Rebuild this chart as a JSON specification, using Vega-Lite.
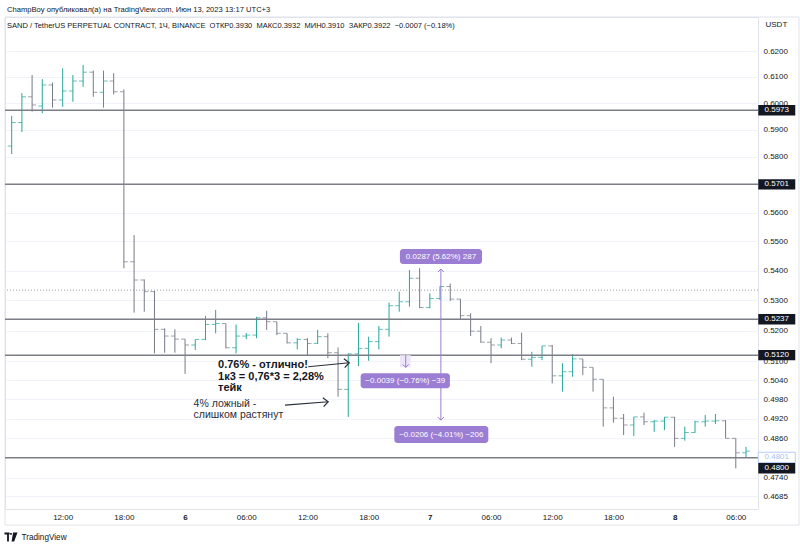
{
  "$schema": "https://vega.github.io/schema/vega-lite/v6.json",
  "width": 753,
  "height": 492,
  "autosize": {"type": "none"},
  "padding": {"left": 5, "top": 17, "right": 42, "bottom": 38},
  "background": "white",
  "config": {
    "font": "Liberation Sans",
    "view": {"stroke": "#e0e3eb"}
  },
  "title": {
    "text": "ChampBoy опубликовал(а) на TradingView.com, Июн 13, 2023 13:17 UTC+3",
    "subtitle": "\u00a0SAND / TetherUS PERPETUAL CONTRACT, 1Ч, BINANCE \u00a0ОТКР0.3930 \u00a0МАКС0.3932 \u00a0МИН0.3910 \u00a0ЗАКР0.3922 \u00a0−0.0007 (−0.18%)",
    "anchor": "start",
    "frame": "group",
    "orient": "top",
    "fontSize": 7.6,
    "fontWeight": "normal",
    "color": "#131722",
    "subtitleFontSize": 7.5,
    "subtitleColor": "#131722",
    "subtitlePadding": 8,
    "offset": -13,
    "dx": 2
  },
  "datasets": {
    "bars": [
      {"t": "2023-06-05T07:00:00Z", "o": 0.5840, "h": 0.5952, "l": 0.5811, "c": 0.5927},
      {"t": "2023-06-05T08:00:00Z", "o": 0.5927, "h": 0.6038, "l": 0.5892, "c": 0.6024},
      {"t": "2023-06-05T09:00:00Z", "o": 0.6024, "h": 0.6107, "l": 0.5968, "c": 0.5993},
      {"t": "2023-06-05T10:00:00Z", "o": 0.5989, "h": 0.6091, "l": 0.5962, "c": 0.6069},
      {"t": "2023-06-05T11:00:00Z", "o": 0.6069, "h": 0.6078, "l": 0.5983, "c": 0.6012},
      {"t": "2023-06-05T12:00:00Z", "o": 0.6012, "h": 0.6133, "l": 0.5986, "c": 0.6046},
      {"t": "2023-06-05T13:00:00Z", "o": 0.6046, "h": 0.6107, "l": 0.6005, "c": 0.6084},
      {"t": "2023-06-05T14:00:00Z", "o": 0.6084, "h": 0.6146, "l": 0.6062, "c": 0.6118},
      {"t": "2023-06-05T15:00:00Z", "o": 0.6118, "h": 0.6124, "l": 0.6024, "c": 0.6041},
      {"t": "2023-06-05T16:00:00Z", "o": 0.6041, "h": 0.6124, "l": 0.5983, "c": 0.6084},
      {"t": "2023-06-05T17:00:00Z", "o": 0.6084, "h": 0.6114, "l": 0.6033, "c": 0.6043},
      {"t": "2023-06-05T18:00:00Z", "o": 0.6043, "h": 0.6052, "l": 0.5408, "c": 0.5430},
      {"t": "2023-06-05T19:00:00Z", "o": 0.5430, "h": 0.5522, "l": 0.5259, "c": 0.5368},
      {"t": "2023-06-05T20:00:00Z", "o": 0.5368, "h": 0.5370, "l": 0.5262, "c": 0.5329},
      {"t": "2023-06-05T21:00:00Z", "o": 0.5329, "h": 0.5331, "l": 0.5126, "c": 0.5204},
      {"t": "2023-06-05T22:00:00Z", "o": 0.5204, "h": 0.5207, "l": 0.5128, "c": 0.5182},
      {"t": "2023-06-05T23:00:00Z", "o": 0.5182, "h": 0.5204, "l": 0.5128, "c": 0.5172},
      {"t": "2023-06-06T00:00:00Z", "o": 0.5172, "h": 0.5172, "l": 0.5060, "c": 0.5153},
      {"t": "2023-06-06T01:00:00Z", "o": 0.5153, "h": 0.5171, "l": 0.5137, "c": 0.5171},
      {"t": "2023-06-06T02:00:00Z", "o": 0.5171, "h": 0.5248, "l": 0.5169, "c": 0.5220},
      {"t": "2023-06-06T03:00:00Z", "o": 0.5220, "h": 0.5268, "l": 0.5191, "c": 0.5223},
      {"t": "2023-06-06T04:00:00Z", "o": 0.5223, "h": 0.5223, "l": 0.5142, "c": 0.5144},
      {"t": "2023-06-06T05:00:00Z", "o": 0.5144, "h": 0.5220, "l": 0.5126, "c": 0.5182},
      {"t": "2023-06-06T06:00:00Z", "o": 0.5182, "h": 0.5192, "l": 0.5172, "c": 0.5185},
      {"t": "2023-06-06T07:00:00Z", "o": 0.5185, "h": 0.5245, "l": 0.5175, "c": 0.5242},
      {"t": "2023-06-06T08:00:00Z", "o": 0.5242, "h": 0.5265, "l": 0.5202, "c": 0.5229},
      {"t": "2023-06-06T09:00:00Z", "o": 0.5229, "h": 0.5229, "l": 0.5185, "c": 0.5191},
      {"t": "2023-06-06T10:00:00Z", "o": 0.5191, "h": 0.5191, "l": 0.5158, "c": 0.5160},
      {"t": "2023-06-06T11:00:00Z", "o": 0.5160, "h": 0.5175, "l": 0.5139, "c": 0.5171},
      {"t": "2023-06-06T12:00:00Z", "o": 0.5171, "h": 0.5175, "l": 0.5120, "c": 0.5158},
      {"t": "2023-06-06T13:00:00Z", "o": 0.5158, "h": 0.5202, "l": 0.5156, "c": 0.5180},
      {"t": "2023-06-06T14:00:00Z", "o": 0.5180, "h": 0.5191, "l": 0.5110, "c": 0.5128},
      {"t": "2023-06-06T15:00:00Z", "o": 0.5128, "h": 0.5145, "l": 0.4988, "c": 0.5011},
      {"t": "2023-06-06T16:00:00Z", "o": 0.5011, "h": 0.5126, "l": 0.4925, "c": 0.5124},
      {"t": "2023-06-06T17:00:00Z", "o": 0.5124, "h": 0.5225, "l": 0.5085, "c": 0.5142},
      {"t": "2023-06-06T18:00:00Z", "o": 0.5142, "h": 0.5180, "l": 0.5102, "c": 0.5164},
      {"t": "2023-06-06T19:00:00Z", "o": 0.5164, "h": 0.5215, "l": 0.5139, "c": 0.5204},
      {"t": "2023-06-06T20:00:00Z", "o": 0.5204, "h": 0.5292, "l": 0.5180, "c": 0.5282},
      {"t": "2023-06-06T21:00:00Z", "o": 0.5282, "h": 0.5329, "l": 0.5262, "c": 0.5295},
      {"t": "2023-06-06T22:00:00Z", "o": 0.5295, "h": 0.5402, "l": 0.5279, "c": 0.5374},
      {"t": "2023-06-06T23:00:00Z", "o": 0.5374, "h": 0.5408, "l": 0.5274, "c": 0.5276},
      {"t": "2023-06-07T00:00:00Z", "o": 0.5276, "h": 0.5323, "l": 0.5273, "c": 0.5306},
      {"t": "2023-06-07T01:00:00Z", "o": 0.5306, "h": 0.5348, "l": 0.5301, "c": 0.5346},
      {"t": "2023-06-07T02:00:00Z", "o": 0.5346, "h": 0.5356, "l": 0.5298, "c": 0.5304},
      {"t": "2023-06-07T03:00:00Z", "o": 0.5304, "h": 0.5304, "l": 0.5235, "c": 0.5249},
      {"t": "2023-06-07T04:00:00Z", "o": 0.5249, "h": 0.5257, "l": 0.5182, "c": 0.5198},
      {"t": "2023-06-07T05:00:00Z", "o": 0.5198, "h": 0.5215, "l": 0.5160, "c": 0.5162},
      {"t": "2023-06-07T06:00:00Z", "o": 0.5162, "h": 0.5175, "l": 0.5094, "c": 0.5153},
      {"t": "2023-06-07T07:00:00Z", "o": 0.5153, "h": 0.5177, "l": 0.5142, "c": 0.5169},
      {"t": "2023-06-07T08:00:00Z", "o": 0.5169, "h": 0.5177, "l": 0.5156, "c": 0.5158},
      {"t": "2023-06-07T09:00:00Z", "o": 0.5158, "h": 0.5193, "l": 0.5104, "c": 0.5107},
      {"t": "2023-06-07T10:00:00Z", "o": 0.5107, "h": 0.5131, "l": 0.5083, "c": 0.5113},
      {"t": "2023-06-07T11:00:00Z", "o": 0.5113, "h": 0.5150, "l": 0.5104, "c": 0.5150},
      {"t": "2023-06-07T12:00:00Z", "o": 0.5150, "h": 0.5153, "l": 0.5030, "c": 0.5054},
      {"t": "2023-06-07T13:00:00Z", "o": 0.5054, "h": 0.5094, "l": 0.5004, "c": 0.5067},
      {"t": "2023-06-07T14:00:00Z", "o": 0.5067, "h": 0.5123, "l": 0.5051, "c": 0.5108},
      {"t": "2023-06-07T15:00:00Z", "o": 0.5108, "h": 0.5108, "l": 0.5056, "c": 0.5081},
      {"t": "2023-06-07T16:00:00Z", "o": 0.5081, "h": 0.5081, "l": 0.5004, "c": 0.5043},
      {"t": "2023-06-07T17:00:00Z", "o": 0.5043, "h": 0.5043, "l": 0.4895, "c": 0.4953},
      {"t": "2023-06-07T18:00:00Z", "o": 0.4953, "h": 0.4988, "l": 0.4907, "c": 0.4921},
      {"t": "2023-06-07T19:00:00Z", "o": 0.4921, "h": 0.4934, "l": 0.4869, "c": 0.4900},
      {"t": "2023-06-07T20:00:00Z", "o": 0.4900, "h": 0.4925, "l": 0.4866, "c": 0.4925},
      {"t": "2023-06-07T21:00:00Z", "o": 0.4925, "h": 0.4938, "l": 0.4900, "c": 0.4910},
      {"t": "2023-06-07T22:00:00Z", "o": 0.4910, "h": 0.4915, "l": 0.4879, "c": 0.4912},
      {"t": "2023-06-07T23:00:00Z", "o": 0.4912, "h": 0.4925, "l": 0.4884, "c": 0.4924},
      {"t": "2023-06-08T00:00:00Z", "o": 0.4924, "h": 0.4925, "l": 0.4833, "c": 0.4859},
      {"t": "2023-06-08T01:00:00Z", "o": 0.4859, "h": 0.4895, "l": 0.4852, "c": 0.4877},
      {"t": "2023-06-08T02:00:00Z", "o": 0.4877, "h": 0.4913, "l": 0.4876, "c": 0.4910},
      {"t": "2023-06-08T03:00:00Z", "o": 0.4910, "h": 0.4931, "l": 0.4895, "c": 0.4912},
      {"t": "2023-06-08T04:00:00Z", "o": 0.4912, "h": 0.4934, "l": 0.4903, "c": 0.4913},
      {"t": "2023-06-08T05:00:00Z", "o": 0.4913, "h": 0.4915, "l": 0.4859, "c": 0.4859},
      {"t": "2023-06-08T06:00:00Z", "o": 0.4859, "h": 0.4859, "l": 0.4768, "c": 0.4815},
      {"t": "2023-06-08T07:00:00Z", "o": 0.4815, "h": 0.4833, "l": 0.4802, "c": 0.4820}
    ],
    "levels": [{"p": 0.5973}, {"p": 0.5701}, {"p": 0.5237}, {"p": 0.5120}, {"p": 0.4800}],
    "dotted": [{"p": 0.5334}],
    "boxes": [
      {"t1": "2023-06-06T21:04:00Z", "t2": "2023-06-07T05:07:00Z", "p1": 0.54736, "p2": 0.54223, "tm": "2023-06-07T01:05:30Z", "pm": 0.5448, "label": "0.0287 (5.62%) 287"},
      {"t1": "2023-06-06T17:13:00Z", "t2": "2023-06-07T01:58:00Z", "p1": 0.50618, "p2": 0.50143, "tm": "2023-06-06T21:35:30Z", "pm": 0.5038, "label": "−0.0039 (−0.76%) −39"},
      {"t1": "2023-06-06T20:31:00Z", "t2": "2023-06-07T05:44:00Z", "p1": 0.48967, "p2": 0.48446, "tm": "2023-06-07T01:07:30Z", "pm": 0.48706, "label": "−0.0206 (−4.01%) −206"}
    ],
    "shade": [{"t1": "2023-06-06T21:04:00Z", "t2": "2023-06-06T22:07:00Z", "p1": 0.5120, "p2": 0.5081}],
    "measure": [
      {"t": "2023-06-07T01:05:00Z", "p1": 0.5405, "p2": 0.4915},
      {"t": "2023-06-06T21:38:00Z", "p1": 0.5120, "p2": 0.5081}
    ],
    "headsUp": [{"t": "2023-06-07T01:05:00Z", "p": 0.5405}],
    "headsDown": [
      {"t": "2023-06-07T01:05:00Z", "p": 0.4915},
      {"t": "2023-06-06T21:38:00Z", "p": 0.5081}
    ],
    "arrows": [
      {"t1": "2023-06-06T12:05:00Z", "p1": 0.50829, "t2": "2023-06-06T16:06:00Z", "p2": 0.50957},
      {"t1": "2023-06-06T09:48:00Z", "p1": 0.49619, "t2": "2023-06-06T14:02:00Z", "p2": 0.49722}
    ],
    "boldNotes": [
      {"t": "2023-06-06T03:14:00Z", "p": 0.50884, "text": "0.76% - отлично!"},
      {"t": "2023-06-06T03:14:00Z", "p": 0.50516, "text": "1к3 = 0,76*3 = 2,28%"},
      {"t": "2023-06-06T03:14:00Z", "p": 0.50152, "text": "тейк"}
    ],
    "plainNotes": [
      {"t": "2023-06-06T00:50:00Z", "p": 0.4965, "text": "4% ложный -"},
      {"t": "2023-06-06T00:50:00Z", "p": 0.49307, "text": "слишком растянут"}
    ],
    "ylabels": [{"p": 0.5973}, {"p": 0.5701}, {"p": 0.5237}, {"p": 0.5120}],
    "ylabelLow": [{"p": 0.4800}],
    "lastPrice": [{"p": 0.4801}],
    "frame": [{"t1": 1685946036000, "t2": 1686226296000, "p1": 0.63341, "p2": 0.46008}],
    "logo": [{"t": 1685948154000, "p": 0.45663}]
  },
  "layer": [
    {
      "data": {"name": "bars"},
      "mark": {"type": "rule", "strokeWidth": 1},
      "encoding": {
        "x": {
          "field": "t", "type": "temporal",
          "scale": {"type": "utc", "domain": [1685946036000, 1686211836000]},
          "axis": {
            "orient": "bottom",
            "values": [1685966400000, 1685988000000, 1686009600000, 1686031200000, 1686052800000, 1686074400000, 1686096000000, 1686117600000, 1686139200000, 1686160800000, 1686182400000, 1686204000000],
            "labelExpr": "utchours(datum.value) == 0 ? '' + utcdate(datum.value) : utcFormat(datum.value, '%H:%M')",
            "labelFontWeight": {"condition": {"test": "utchours(datum.value) == 0", "value": "bold"}, "value": "normal"},
            "labelFontSize": 8,
            "labelColor": "#131722",
            "labelPadding": 4,
            "labelFlush": false,
            "labelOverlap": false,
            "ticks": false,
            "domain": false,
            "grid": false,
            "title": "TradingView",
            "titleX": 16,
            "titleY": 28,
            "titleAlign": "left",
            "titleBaseline": "middle",
            "titleFontSize": 8.2,
            "titleFontWeight": "normal",
            "titleColor": "#131722"
          }
        },
        "y": {
          "field": "l", "type": "quantitative",
          "scale": {"type": "log", "domain": [0.46477, 0.63341], "nice": false},
          "axis": {
            "orient": "right",
            "values": [0.62, 0.61, 0.6, 0.59, 0.58, 0.56, 0.55, 0.54, 0.53, 0.52, 0.51, 0.504, 0.498, 0.492, 0.486, 0.474, 0.4685],
            "format": ".4f",
            "labelFontSize": 8,
            "labelColor": "#131722",
            "labelPadding": 5,
            "labelAlign": "left",
            "labelBaseline": "middle",
            "ticks": false,
            "domain": false,
            "grid": true,
            "gridColor": "#f0f3fa",
            "title": "USDT",
            "titleAngle": 0,
            "titleAlign": "left",
            "titleBaseline": "middle",
            "titleX": 7,
            "titleY": 7,
            "titleFontSize": 8,
            "titleFontWeight": "normal",
            "titleColor": "#131722"
          }
        },
        "y2": {"field": "h"},
        "color": {"condition": {"test": "datum.c >= datum.o", "value": "#26a69a"}, "value": "#787b86"}
      }
    },
    {
      "data": {"name": "bars"},
      "mark": {"type": "tick", "orient": "horizontal", "size": 4, "thickness": 1, "xOffset": -2},
      "encoding": {
        "x": {"field": "t", "type": "temporal"},
        "y": {"field": "o", "type": "quantitative"},
        "color": {"condition": {"test": "datum.c >= datum.o", "value": "#26a69a"}, "value": "#787b86"}
      }
    },
    {
      "data": {"name": "bars"},
      "mark": {"type": "tick", "orient": "horizontal", "size": 4, "thickness": 1, "xOffset": 2},
      "encoding": {
        "x": {"field": "t", "type": "temporal"},
        "y": {"field": "c", "type": "quantitative"},
        "color": {"condition": {"test": "datum.c >= datum.o", "value": "#26a69a"}, "value": "#787b86"}
      }
    },
    {
      "data": {"name": "frame"},
      "mark": {"type": "rect", "fill": null, "stroke": "#e0e3eb", "strokeWidth": 1},
      "encoding": {
        "x": {"field": "t1", "type": "temporal"},
        "x2": {"field": "t2"},
        "y": {"field": "p1", "type": "quantitative"},
        "y2": {"field": "p2"}
      }
    },
    {
      "data": {"name": "logo"},
      "mark": {"type": "point", "shape": "M-0.93,-0.64L-0.2,-0.64L-0.2,-0.36L-0.3,-0.36L-0.3,0.64L-0.56,0.64L-0.56,-0.36L-0.93,-0.36Z M-0.12,-0.6L0.12,-0.6L0.12,-0.34L-0.12,-0.34Z M0.3,-0.64L0.93,-0.64L0.45,0.64L0.08,0.64Z", "size": 196, "filled": true, "color": "#131722", "strokeWidth": 0, "opacity": 1},
      "encoding": {
        "x": {"field": "t", "type": "temporal"},
        "y": {"field": "p", "type": "quantitative"}
      }
    },
    {
      "data": {"name": "levels"},
      "mark": {"type": "rule", "color": "#7b7e87", "strokeWidth": 1.5},
      "encoding": {"y": {"field": "p", "type": "quantitative"}}
    },
    {
      "data": {"name": "dotted"},
      "mark": {"type": "rule", "color": "#9598a1", "strokeWidth": 1, "strokeDash": [1, 2]},
      "encoding": {"y": {"field": "p", "type": "quantitative"}}
    },
    {
      "data": {"name": "shade"},
      "mark": {"type": "rect", "color": "#ede6f8"},
      "encoding": {
        "x": {"field": "t1", "type": "temporal"},
        "x2": {"field": "t2"},
        "y": {"field": "p1", "type": "quantitative"},
        "y2": {"field": "p2"}
      }
    },
    {
      "data": {"name": "measure"},
      "mark": {"type": "rule", "color": "#9b7dd4", "strokeWidth": 1},
      "encoding": {
        "x": {"field": "t", "type": "temporal"},
        "y": {"field": "p1", "type": "quantitative"},
        "y2": {"field": "p2"}
      }
    },
    {
      "data": {"name": "headsUp"},
      "mark": {"type": "point", "shape": "M-1,1L0,0L1,1", "filled": false, "color": "#9b7dd4", "strokeWidth": 1, "size": 36, "opacity": 1},
      "encoding": {
        "x": {"field": "t", "type": "temporal"},
        "y": {"field": "p", "type": "quantitative"}
      }
    },
    {
      "data": {"name": "headsDown"},
      "mark": {"type": "point", "shape": "M-1,-1L0,0L1,-1", "filled": false, "color": "#9b7dd4", "strokeWidth": 1, "size": 36, "opacity": 1},
      "encoding": {
        "x": {"field": "t", "type": "temporal"},
        "y": {"field": "p", "type": "quantitative"}
      }
    },
    {
      "data": {"name": "boxes"},
      "mark": {"type": "rect", "color": "#9b7dd4", "cornerRadius": 3},
      "encoding": {
        "x": {"field": "t1", "type": "temporal"},
        "x2": {"field": "t2"},
        "y": {"field": "p1", "type": "quantitative"},
        "y2": {"field": "p2"}
      }
    },
    {
      "data": {"name": "boxes"},
      "mark": {"type": "text", "color": "white", "fontSize": 8, "align": "center", "baseline": "middle"},
      "encoding": {
        "x": {"field": "tm", "type": "temporal"},
        "y": {"field": "pm", "type": "quantitative"},
        "text": {"field": "label", "type": "nominal"}
      }
    },
    {
      "data": {"name": "arrows"},
      "mark": {"type": "rule", "color": "#2a2e39", "strokeWidth": 1.2},
      "encoding": {
        "x": {"field": "t1", "type": "temporal"},
        "x2": {"field": "t2"},
        "y": {"field": "p1", "type": "quantitative"},
        "y2": {"field": "p2"}
      }
    },
    {
      "data": {"name": "arrows"},
      "mark": {"type": "point", "shape": "M-1,-0.9L0,0L-1,0.9", "filled": false, "color": "#2a2e39", "strokeWidth": 1.2, "size": 100, "angle": 355, "opacity": 1},
      "encoding": {
        "x": {"field": "t2", "type": "temporal"},
        "y": {"field": "p2", "type": "quantitative"}
      }
    },
    {
      "data": {"name": "boldNotes"},
      "mark": {"type": "text", "color": "#131722", "fontSize": 11, "fontWeight": "bold", "align": "left", "baseline": "middle"},
      "encoding": {
        "x": {"field": "t", "type": "temporal"},
        "y": {"field": "p", "type": "quantitative"},
        "text": {"field": "text", "type": "nominal"}
      }
    },
    {
      "data": {"name": "plainNotes"},
      "mark": {"type": "text", "color": "#2a2e39", "fontSize": 10.5, "align": "left", "baseline": "middle"},
      "encoding": {
        "x": {"field": "t", "type": "temporal"},
        "y": {"field": "p", "type": "quantitative"},
        "text": {"field": "text", "type": "nominal"}
      }
    },
    {
      "data": {"name": "lastPrice"},
      "mark": {"type": "point", "shape": "M-1,-0.28L1,-0.28L1,0.28L-1,0.28Z", "size": 1369, "filled": true, "fill": "#ffffff", "stroke": "#b7cdf8", "strokeWidth": 1, "opacity": 1},
      "encoding": {
        "x": {"datum": 1686218460000, "type": "temporal"},
        "y": {"field": "p", "type": "quantitative"}
      }
    },
    {
      "data": {"name": "lastPrice"},
      "mark": {"type": "text", "color": "#a3bff3", "fontSize": 8, "align": "center", "baseline": "middle"},
      "encoding": {
        "x": {"datum": 1686218460000, "type": "temporal"},
        "y": {"field": "p", "type": "quantitative"},
        "text": {"field": "p", "type": "quantitative", "format": ".4f"}
      }
    },
    {
      "data": {"name": "ylabels"},
      "mark": {"type": "point", "shape": "M-1,-0.28L1,-0.28L1,0.28L-1,0.28Z", "size": 1369, "filled": true, "fill": "#131722", "strokeWidth": 0, "opacity": 1},
      "encoding": {
        "x": {"datum": 1686218460000, "type": "temporal"},
        "y": {"field": "p", "type": "quantitative"}
      }
    },
    {
      "data": {"name": "ylabels"},
      "mark": {"type": "text", "color": "#ffffff", "fontSize": 8, "align": "center", "baseline": "middle"},
      "encoding": {
        "x": {"datum": 1686218460000, "type": "temporal"},
        "y": {"field": "p", "type": "quantitative"},
        "text": {"field": "p", "type": "quantitative", "format": ".4f"}
      }
    },
    {
      "data": {"name": "ylabelLow"},
      "mark": {"type": "point", "shape": "M-1,-0.28L1,-0.28L1,0.28L-1,0.28Z", "size": 1369, "filled": true, "fill": "#131722", "strokeWidth": 0, "opacity": 1, "yOffset": 10.5},
      "encoding": {
        "x": {"datum": 1686218460000, "type": "temporal"},
        "y": {"field": "p", "type": "quantitative"}
      }
    },
    {
      "data": {"name": "ylabelLow"},
      "mark": {"type": "text", "color": "#ffffff", "fontSize": 8, "align": "center", "baseline": "middle", "yOffset": 10.5},
      "encoding": {
        "x": {"datum": 1686218460000, "type": "temporal"},
        "y": {"field": "p", "type": "quantitative"},
        "text": {"field": "p", "type": "quantitative", "format": ".4f"}
      }
    }
  ]
}
